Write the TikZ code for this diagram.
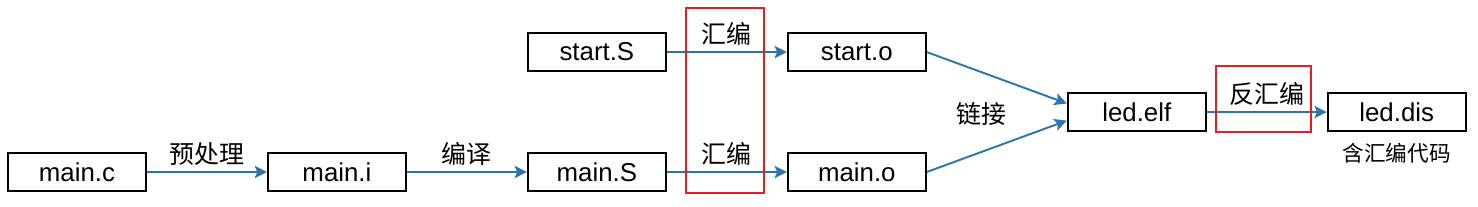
\documentclass[tikz,border=0pt]{standalone}
\usepackage{fontspec}
\setmainfont{Liberation Sans}
\newfontfamily\cjk{Noto Sans CJK SC}
\usetikzlibrary{positioning, arrows.meta, calc}

\definecolor{flowblue}{RGB}{46,117,172}
\definecolor{markred}{RGB}{232,28,36}

\begin{document}
\begin{tikzpicture}[
    x=0.2mm, y=-0.2mm,
    >=Stealth, node distance=16mm and 24mm,
    file/.style={rectangle, draw, line width=1.1pt,
                 minimum width=27.6mm, minimum height=7.6mm,
                 inner sep=0pt, font=\fontsize{14.7}{17}\selectfont},
    lbl/.style={text=black, font=\cjk\fontsize{14.2}{16}\selectfont},
    note/.style={font=\cjk\fontsize{12.3}{14}\selectfont},
    arrow/.style={-{Stealth[length=7pt, width=7pt, inset=1.5pt]},
                  line width=1.1pt, flowblue},
    frame/.style={draw=markred, line width=1.1pt}
]
  \useasboundingbox (0,0) rectangle (1478,206);

  % source to object files
  \node[file] (mainC) at (77,172) {main.c};
  \node[file, right=of mainC] (mainI) {main.i};
  \node[file, right=of mainI] (mainS) {main.S};
  \node[file, right=of mainS] (mainO) {main.o};
  \node[file, above=of mainS] (startS) {start.S};
  \node[file, right=of startS] (startO) {start.o};

  % link and disassemble
  \coordinate (mid) at ($(startO.east)!0.5!(mainO.east)$);
  \node[file, right=28mm of mid] (ledElf) {led.elf};
  \node[file, right=of ledElf] (ledDis) {led.dis};
  \node[note, below=1mm of ledDis] (disNote) {含汇编代码};

  \draw[arrow] (mainC) -- node[above, lbl] {预处理} (mainI);
  \draw[arrow] (mainI) -- node[above, lbl] {编译} (mainS);
  \draw[arrow] (mainS) -- node[above, lbl] {汇编} (mainO);
  \draw[arrow] (startS) -- node[above, lbl] {汇编} (startO);
  \draw[arrow] (startO.east) -- (ledElf.173);
  \draw[arrow] (mainO.east) -- (ledElf.187);
  \node[lbl] (linkLbl) at ($(mid)+(55,2)$) {链接};
  \draw[arrow] (ledElf) -- node[above, lbl] {反汇编} (ledDis);

  % highlight frames
  \draw[frame] (686,8) rectangle (764,193);
  \draw[frame] (1216,66) rectangle (1311,132);
\end{tikzpicture}
\end{document}
